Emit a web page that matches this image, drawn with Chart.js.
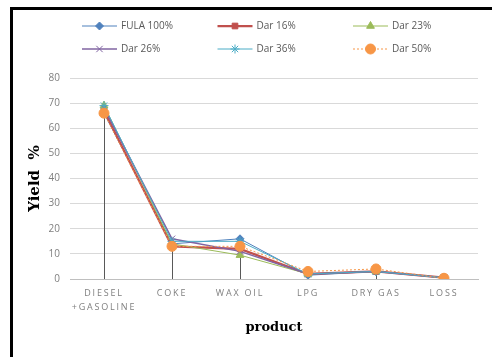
<!DOCTYPE html>
<html>
<head>
<meta charset="utf-8">
<script src="https://cdn.jsdelivr.net/npm/chart.js@4.4.1/dist/chart.umd.min.js"></script>
<style>
  html, body { margin: 0; padding: 0; background: #fff; overflow: hidden; }
  #wrap { position: relative; width: 492px; height: 357px; }
  #frame { position: absolute; left: 10px; top: 7px; width: 600px; height: 500px;
           border: 3px solid #000; pointer-events: none; }
  canvas { position: absolute; left: 0; top: 0; }
</style>
</head>
<body>
<div id="wrap">
  <canvas id="c" width="492" height="357"></canvas>
  <div id="frame"></div>
</div>
<script>
// Product categories (x axis)
const products = [['DIESEL', '+GASOLINE'], 'COKE', 'WAX OIL', 'LPG', 'DRY GAS', 'LOSS'];

// Yield % per product for each feed blend
const fula100 = [66, 14, 16, 1.5, 3, 0.5];
const dar16   = [67, 13, 12, 2, 3, 0.5];
const dar23   = [69, 14, 9.5, 2, 3, 0.5];
const dar26   = [68, 16, 11, 2, 3, 0.5];
const dar36   = [69, 15, 15, 2, 3, 0.5];
const dar50   = [66, 13, 13, 3, 4, 0.3];

const seriesNames = ['FULA 100%', 'Dar 16%', 'Dar 23%', 'Dar 26%', 'Dar 36%', 'Dar 50%'];
const yTicks = [0, 10, 20, 30, 40, 50, 60, 70, 80];

const styles = [
  { color: '#4F81BD', width: 1,    point: 'rectRot',  r: 4 },
  { color: '#C0504D', width: 2.25, point: 'rect',     r: 4 },
  { color: '#9BBB59', width: 1,    point: 'triangle', r: 4.5 },
  { color: '#8064A2', width: 1.5,  point: 'crossRot', r: 4.5 },
  { color: '#4BACC6', width: 1,    point: 'star',     r: 4.5 },
  { color: '#F79646', width: 1,    point: 'circle',   r: 5, dash: [2, 2] }
];

const values = [fula100, dar16, dar23, dar26, dar36, dar50];

const datasets = values.map((v, i) => ({
  label: seriesNames[i],
  data: v,
  borderColor: styles[i].color,
  backgroundColor: styles[i].color,
  borderWidth: styles[i].width,
  borderDash: styles[i].dash || [],
  pointStyle: styles[i].point,
  pointRadius: styles[i].r,
  pointBackgroundColor: styles[i].color,
  pointBorderColor: styles[i].color,
  pointBorderWidth: 1,
  tension: 0,
  order: values.length - 1 - i
}));

// Vertical drop lines from the highest value of each product to the axis
const dropLines = {
  id: 'dropLines',
  beforeDatasetsDraw(chart) {
    const { ctx, scales: { x, y } } = chart;
    ctx.save();
    ctx.strokeStyle = '#595959';
    ctx.lineWidth = 1;
    products.forEach((p, i) => {
      const top = Math.max(...chart.data.datasets.map(d => d.data[i]));
      const px = Math.round(x.getPixelForValue(i)) + 0.5;
      ctx.beginPath();
      ctx.moveTo(px, y.getPixelForValue(top));
      ctx.lineTo(px, y.getPixelForValue(0));
      ctx.stroke();
    });
    ctx.restore();
  }
};

// Two-row legend laid out in three equal columns
const legendGrid = {
  id: 'legendGrid',
  afterDraw(chart) {
    const ctx = chart.ctx;
    const colW = 135.5, x0 = 82, rowY = [26, 49], lineLen = 35;
    chart.data.datasets.forEach((ds, i) => {
      const r = Math.floor(i / 3), c = i % 3;
      const lx = x0 + c * colW, ly = rowY[r];
      ctx.save();
      ctx.strokeStyle = ds.borderColor;
      ctx.lineWidth = ds.borderWidth;
      ctx.setLineDash(ds.borderDash || []);
      ctx.beginPath();
      ctx.moveTo(lx, ly);
      ctx.lineTo(lx + lineLen, ly);
      ctx.stroke();
      ctx.setLineDash([]);
      ctx.fillStyle = ds.pointBackgroundColor;
      ctx.strokeStyle = ds.pointBorderColor;
      ctx.lineWidth = 1;
      Chart.helpers.drawPoint(ctx, { pointStyle: ds.pointStyle, radius: ds.pointRadius, rotation: 0, borderWidth: 1 },
        lx + lineLen / 2, ly);
      ctx.fillStyle = '#595959';
      ctx.font = '10px "Open Sans"';
      ctx.textAlign = 'left';
      ctx.textBaseline = 'middle';
      ctx.fillText(ds.label, lx + lineLen + 4, ly);
      ctx.restore();
    });
  }
};

// Spaced-out lettering for the category labels
const spacedLabels = {
  id: 'spacedLabels',
  afterUpdate(chart) {
    const sx = chart.scales.x;
    if (sx && !sx._spaced) {
      const orig = sx.drawLabels;
      sx.drawLabels = function (area) {
        const ctx = this.ctx;
        ctx.save();
        ctx.letterSpacing = '1.8px';
        orig.call(this, area);
        ctx.restore();
      };
      sx._spaced = true;
    }
  }
};

new Chart(document.getElementById('c'), {
  type: 'line',
  data: { labels: products, datasets },
  plugins: [dropLines, legendGrid, spacedLabels],
  options: {
    responsive: false,
    animation: false,
    layout: { padding: { top: 78, right: 14, left: 0, bottom: 0 } },
    plugins: { legend: { display: false }, tooltip: { enabled: false } },
    scales: {
      x: {
        offset: true,
        grid: { display: false, drawTicks: false },
        border: { display: true, color: '#BFBFBF' },
        ticks: {
          color: '#7F7F7F', padding: 8, maxRotation: 0, autoSkip: false,
          font: { family: 'Open Sans', size: 9, lineHeight: 1.5 }
        },
        title: {
          display: true, text: 'product', color: '#000',
          font: { family: 'DejaVu Serif', size: 13, weight: 'bold' },
          padding: { top: 0, bottom: 22 }
        },
        afterFit(scale) { scale.height = 78; }
      },
      y: {
        min: 0, max: 80,
        afterBuildTicks(scale) { scale.ticks = yTicks.map(v => ({ value: v })); },
        grid: { color: '#D9D9D9', lineWidth: 1, drawTicks: false },
        border: { display: false },
        ticks: {
          color: '#7F7F7F', padding: 10,
          font: { family: 'Open Sans', size: 10 }
        },
        title: {
          display: true, text: 'Yield  %', color: '#000',
          font: { family: 'DejaVu Serif', size: 15, weight: 'bold' },
          padding: { top: 26, bottom: 0 }
        },
        afterFit(scale) { scale.width = 70; }
      }
    }
  }
});
</script>
</body>
</html>
